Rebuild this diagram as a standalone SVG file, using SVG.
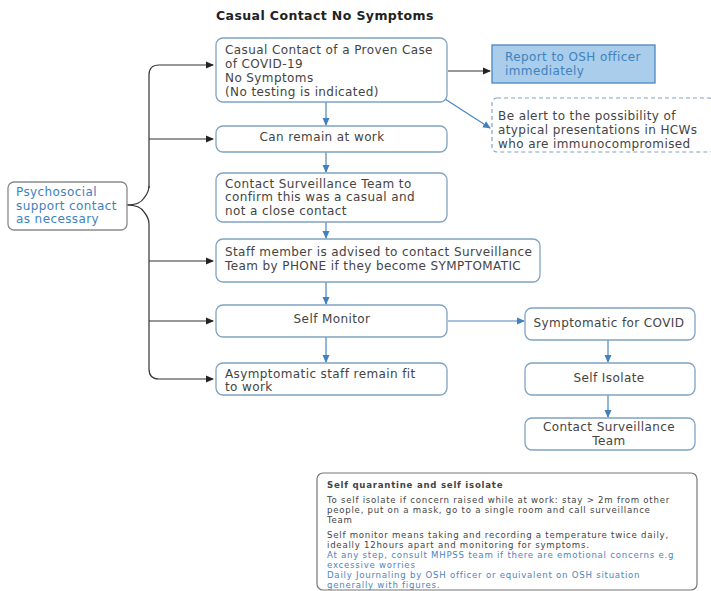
<svg xmlns="http://www.w3.org/2000/svg" width="711" height="591" viewBox="0 0 711 591">
<defs>
<style>
.box{fill:#fff;stroke:#7fa3c4;stroke-width:1.3}
.t{font-family:"DejaVu Sans","Liberation Sans",sans-serif;font-size:12px;letter-spacing:0.4px;fill:#444}
.c{text-anchor:middle}
.b{fill:#3f82bd}
.n{font-family:"DejaVu Sans","Liberation Sans",sans-serif;font-size:8.6px;letter-spacing:0.75px;fill:#444}
.nb{fill:#4a86bf}
.blk{fill:none;stroke:#333;stroke-width:1.2}
.blu{fill:none;stroke:#4a86c0;stroke-width:1.2}
</style>
<marker id="ak" markerWidth="8" markerHeight="8" refX="7" refY="4" orient="auto" markerUnits="userSpaceOnUse"><path d="M0,0.5 L8,4 L0,7.5 Z" fill="#222"/></marker>
<marker id="ab" markerWidth="8" markerHeight="8" refX="7" refY="4" orient="auto" markerUnits="userSpaceOnUse"><path d="M0,0.5 L8,4 L0,7.5 Z" fill="#3f82bd"/></marker>
</defs>
<rect width="711" height="591" fill="#fff"/>
<text x="216" y="20" font-family="DejaVu Sans, Liberation Sans, sans-serif" font-size="12.5" font-weight="bold" letter-spacing="0.4" fill="#222">Casual Contact No Symptoms</text>

<g id="connectors">
<path class="blk" d="M149,188 V75 Q149,65 159,65 H213" marker-end="url(#ak)"/>
<path class="blk" d="M149,139 H213" marker-end="url(#ak)"/>
<path class="blk" d="M127,205 Q140,205 144,198 Q149,192 149,186"/>
<path class="blk" d="M127,205 Q140,205 144,212 Q149,218 149,224 V369 Q149,379 159,379 H213" marker-end="url(#ak)"/>
<path class="blk" d="M149,261 H213" marker-end="url(#ak)"/>
<path class="blk" d="M149,321 H213" marker-end="url(#ak)"/>
<path class="blk" d="M448,71 H490" marker-end="url(#ak)"/>
<path class="blu" d="M445,99 L490,128" marker-end="url(#ab)"/>
<path class="blu" d="M326,102 V125" marker-end="url(#ab)"/>
<path class="blu" d="M326,152 V172" marker-end="url(#ab)"/>
<path class="blu" d="M326,222 V238" marker-end="url(#ab)"/>
<path class="blu" d="M326,282 V304" marker-end="url(#ab)"/>
<path class="blu" d="M326,337 V362" marker-end="url(#ab)"/>
<path class="blu" d="M448,321 H524" marker-end="url(#ab)"/>
<path class="blu" d="M608,340 V362" marker-end="url(#ab)"/>
<path class="blu" d="M608,395 V417" marker-end="url(#ab)"/>
</g>

<g id="psychosocial">
<rect class="box" x="8" y="182" width="119" height="48" rx="6" style="stroke:#8a8a8a"/>
<text class="t b" x="16" y="196">Psychosocial</text>
<text class="t b" x="16" y="210">support contact</text>
<text class="t b" x="16" y="223">as necessary</text>
</g>

<g id="casual">
<rect class="box" x="216" y="38" width="231" height="64" rx="7"/>
<text class="t" x="225" y="54">Casual Contact of a Proven Case</text>
<text class="t" x="225" y="68">of COVID-19</text>
<text class="t" x="225" y="82">No Symptoms</text>
<text class="t" x="225" y="96">(No testing is indicated)</text>
</g>

<g id="report">
<rect x="492" y="45" width="163" height="38" fill="#a9cdea" stroke="#4a86c0" stroke-width="1.3"/>
<text class="t b" x="505" y="61">Report to OSH officer</text>
<text class="t b" x="505" y="75">immediately</text>
</g>

<g id="alert">
<rect x="492" y="98" width="222" height="54" rx="5" fill="#fff" stroke="#7fa3c4" stroke-width="1.2" stroke-dasharray="4,3"/>
<text class="t" x="498" y="120">Be alert to the possibility of</text>
<text class="t" x="498" y="134">atypical presentations in HCWs</text>
<text class="t" x="498" y="148">who are immunocompromised</text>
</g>

<g id="remain">
<rect class="box" x="216" y="126" width="231" height="26" rx="7"/>
<text class="t c" x="322" y="141">Can remain at work</text>
</g>

<g id="confirm">
<rect class="box" x="216" y="173" width="231" height="49" rx="7"/>
<text class="t" x="225" y="188">Contact Surveillance Team to</text>
<text class="t" x="225" y="201">confirm this was a casual and</text>
<text class="t" x="225" y="215">not a close contact</text>
</g>

<g id="advised">
<rect class="box" x="216" y="239" width="324" height="43" rx="7"/>
<text class="t" x="225" y="256">Staff member is advised to contact Surveillance</text>
<text class="t" x="225" y="270">Team by PHONE if they become SYMPTOMATIC</text>
</g>

<g id="monitor">
<rect class="box" x="216" y="305" width="231" height="32" rx="7"/>
<text class="t c" x="332" y="323">Self Monitor</text>
</g>

<g id="asymptomatic">
<rect class="box" x="216" y="363" width="231" height="32" rx="7"/>
<text class="t" x="225" y="378">Asymptomatic staff remain fit</text>
<text class="t" x="225" y="391">to work</text>
</g>

<g id="symptomatic">
<rect class="box" x="525" y="308" width="170" height="32" rx="7"/>
<text class="t c" x="609" y="327">Symptomatic for COVID</text>
</g>

<g id="isolate">
<rect class="box" x="525" y="363" width="170" height="32" rx="7"/>
<text class="t c" x="609" y="382">Self Isolate</text>
</g>

<g id="contactteam">
<rect class="box" x="525" y="418" width="170" height="32" rx="7"/>
<text class="t c" x="609" y="431">Contact Surveillance</text>
<text class="t c" x="609" y="445">Team</text>
</g>

<g id="note">
<rect x="317" y="473" width="380" height="117" rx="6" fill="#fff" stroke="#777" stroke-width="1.2"/>
<text class="n" x="327" y="488" font-weight="bold" fill="#333" letter-spacing="0.5">Self quarantine and self isolate</text>
<text class="n" x="327" y="503">To self isolate if concern raised while at work: stay &gt; 2m from other</text>
<text class="n" x="327" y="513">people, put on a mask, go to a single room and call surveillance</text>
<text class="n" x="327" y="523">Team</text>
<text class="n" x="327" y="538">Self monitor means taking and recording a temperature twice daily,</text>
<text class="n" x="327" y="548">ideally 12hours apart and monitoring for symptoms.</text>
<text class="n nb" x="327" y="558">At any step, consult MHPSS team if there are emotional concerns e.g</text>
<text class="n nb" x="327" y="568">excessive worries</text>
<text class="n nb" x="327" y="578">Daily Journaling by OSH officer or equivalent on OSH situation</text>
<text class="n nb" x="327" y="588">generally with figures.</text>
</g>
</svg>
